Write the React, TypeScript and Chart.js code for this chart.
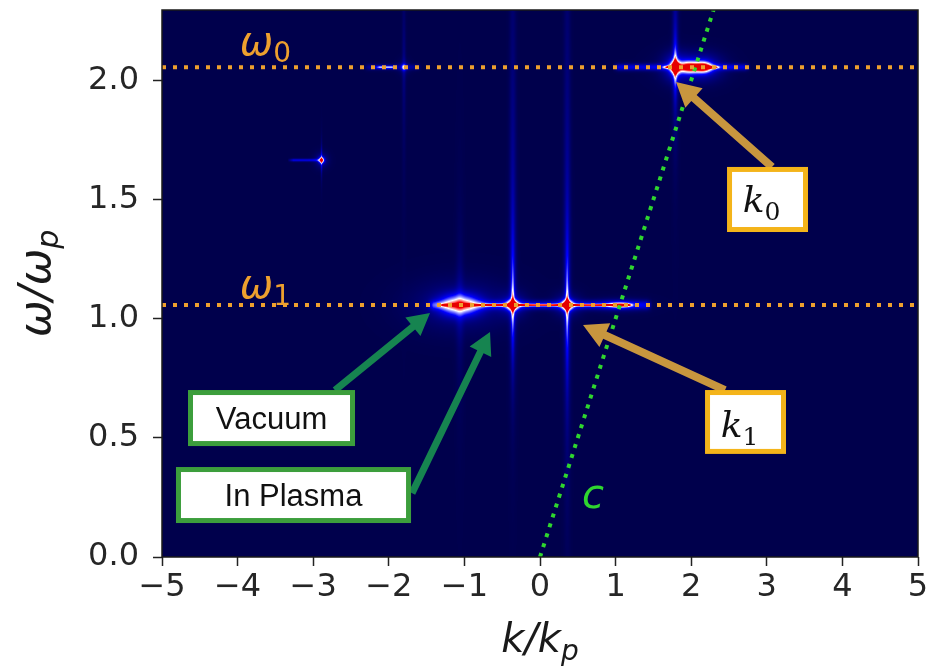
import React, { useEffect, useRef } from "react";
import { Chart, registerables } from "chart.js";

Chart.register(...registerables);

// ---------------- axes ----------------
const xTickValues = [-5, -4, -3, -2, -1, 0, 1, 2, 3, 4, 5];
const yTickValues = [0, 0.5, 1.0, 1.5, 2.0];
const kRange = [-5, 5];
const omegaRange = [0, 2.295];

// ---------------- reference lines ----------------
const omegaLevels = [2.055, 1.057]; // ω0, ω1
const omegaSubs = ["0", "1"];
const omegaLabelK = [-3.97, -3.97];
const omegaLabelW = [2.106, 1.087];
const lightLineK = [0, 2.4]; // light line ω = c k
const lightLineW = [0, 2.4];

// ---------------- spectrum: localized peaks ----------------
const peakK = [-1.06, -0.36, 0.36, 1.05, 1.79, 1.98, 2.17, -2.89, -1.8];
const peakW = [1.057, 1.057, 1.057, 1.057, 2.055, 2.055, 2.055, 1.665, 2.055];
const peakDK = [0.25, 0.07, 0.07, 0.14, 0.06, 0.14, 0.1, 0.035, 0.03];
const peakDW = [0.042, 0.02, 0.02, 0.012, 0.025, 0.024, 0.022, 0.012, 0.012];
const peakAmp = [0.5, 0.66, 0.66, 0.38, 0.72, 0.62, 0.58, 0.6, 0.32];

// ---------------- spectrum: vertical streaks ----------------
const streakK = [-0.36, -0.36, 0.36, 0.36, 1.79, 1.79, -1.06, -1.8, -2.89];
const streakW = [1.057, 1.057, 1.057, 1.057, 2.055, 2.055, 1.057, 2.055, 1.665];
const streakDK = [0.02, 0.045, 0.02, 0.045, 0.02, 0.04, 0.05, 0.025, 0.012];
const streakUp = [0.15, 0.9, 0.15, 0.9, 0.06, 0.3, 0.25, 0.3, 0.04];
const streakDown = [0.12, 0.25, 0.15, 0.45, 0.06, 0.2, 0.25, 0.3, 0.04];
const streakAmp = [0.45, 0.18, 0.45, 0.18, 0.45, 0.2, 0.08, 0.08, 0.3];

// ---------------- spectrum: horizontal line emission ----------------
const lineW = [1.057, 1.057, 2.055, 2.055, 2.055, 2.055, 1.665];
const lineK0 = [-1.45, -1.3, 1.0, 1.65, -2.16, -2.3, -3.3];
const lineK1 = [1.45, 1.2, 2.75, 2.35, -1.92, -1.6, -2.89];
const lineDW = [0.018, 0.005, 0.014, 0.005, 0.006, 0.012, 0.006];
const lineAmp = [0.2, 0.58, 0.2, 0.55, 0.35, 0.1, 0.2];

const ORANGE = "#eea02e";
const GREEN_DOT = "#2fd62f";
const BOX_GREEN = "#3c9e3c";
const ARROW_GREEN = "#168450";
const BOX_GOLD = "#f4b41a";
const ARROW_GOLD = "#c8963e";

function seismicLUT(n: number) {
  const stops = [
    [0, 0, 0, 76.5],
    [0.25, 0, 0, 255],
    [0.5, 255, 255, 255],
    [0.75, 255, 0, 0],
    [1, 127.5, 0, 0],
  ];
  const lut = new Uint8ClampedArray(n * 3);
  for (let i = 0; i < n; i++) {
    const t = i / (n - 1);
    let s = 0;
    while (s < stops.length - 2 && t > stops[s + 1][0]) s++;
    const a = stops[s], b = stops[s + 1];
    const f = (t - a[0]) / (b[0] - a[0]);
    lut[i * 3] = a[1] + (b[1] - a[1]) * f;
    lut[i * 3 + 1] = a[2] + (b[2] - a[2]) * f;
    lut[i * 3 + 2] = a[3] + (b[3] - a[3]) * f;
  }
  return lut;
}

const spectrumPlugin = {
  id: "spectrum",
  beforeDatasetsDraw(chart: any) {
    const { ctx, chartArea: a, scales } = chart;
    const xs = scales.x, ys = scales.y;
    const W = Math.round(a.right - a.left), H = Math.round(a.bottom - a.top);
    const field = new Float32Array(W * H);
    const colK = new Float64Array(W), rowW = new Float64Array(H);
    for (let i = 0; i < W; i++) colK[i] = xs.getValueForPixel(a.left + i + 0.5);
    for (let j = 0; j < H; j++) rowW[j] = ys.getValueForPixel(a.top + j + 0.5);
    const add = (k0: number, k1: number, w0: number, w1: number, f: (k: number, w: number) => number) => {
      let i0 = Math.floor(xs.getPixelForValue(k0) - a.left), i1 = Math.ceil(xs.getPixelForValue(k1) - a.left);
      let j0 = Math.floor(ys.getPixelForValue(w1) - a.top), j1 = Math.ceil(ys.getPixelForValue(w0) - a.top);
      i0 = Math.max(0, i0); i1 = Math.min(W - 1, i1); j0 = Math.max(0, j0); j1 = Math.min(H - 1, j1);
      for (let j = j0; j <= j1; j++) {
        const w = rowW[j], base = j * W;
        for (let i = i0; i <= i1; i++) field[base + i] += f(colK[i], w);
      }
    };
    peakK.forEach((pk, n) => {
      const pw = peakW[n], dk = peakDK[n], dw = peakDW[n], amp = peakAmp[n];
      add(pk - 10 * dk, pk + 10 * dk, pw - 10 * dw, pw + 10 * dw, (k, w) => {
        const r2 = ((k - pk) / dk) ** 2 + ((w - pw) / dw) ** 2;
        return amp * Math.exp(-r2) + 0.18 * amp * Math.exp(-r2 / 6.25);
      });
    });
    streakK.forEach((sk, n) => {
      const sw = streakW[n], dk = streakDK[n], up = streakUp[n], dn = streakDown[n], amp = streakAmp[n];
      add(sk - 3 * dk, sk + 3 * dk, sw - 8 * dn, sw + 8 * up, (k, w) => {
        const d = w - sw;
        return amp * Math.exp(-(((k - sk) / dk) ** 2)) * Math.exp(d > 0 ? -d / up : d / dn);
      });
    });
    lineW.forEach((lw, n) => {
      const k0 = lineK0[n], k1 = lineK1[n], dw = lineDW[n], amp = lineAmp[n];
      add(k0 - 0.1, k1 + 0.1, lw - 5 * dw, lw + 5 * dw, (k, w) => {
        const edge = Math.min(1, Math.max(0, (k - k0) / 0.08 + 0.5)) * Math.min(1, Math.max(0, (k1 - k) / 0.08 + 0.5));
        return amp * edge * Math.exp(-(((w - lw) / dw) ** 2));
      });
    });
    const N = 512;
    const lut = seismicLUT(N);
    const off = document.createElement("canvas");
    off.width = W; off.height = H;
    const octx = off.getContext("2d")!;
    const img = octx.createImageData(W, H);
    for (let p = 0; p < W * H; p++) {
      const t = Math.min(0.8, Math.max(0, field[p]));
      const li = Math.round(t * (N - 1)) * 3;
      img.data[p * 4] = lut[li];
      img.data[p * 4 + 1] = lut[li + 1];
      img.data[p * 4 + 2] = lut[li + 2];
      img.data[p * 4 + 3] = 255;
    }
    octx.putImageData(img, 0, 0);
    ctx.save();
    ctx.beginPath();
    ctx.rect(a.left, a.top, a.right - a.left, a.bottom - a.top);
    ctx.clip();
    ctx.fillStyle = "rgb(0,0,76)";
    ctx.fillRect(a.left, a.top, a.right - a.left, a.bottom - a.top);
    ctx.filter = "blur(0.7px)";
    ctx.drawImage(off, a.left, a.top);
    ctx.filter = "none";
    ctx.restore();
  },
};

type Run = { t: string; font: string; dy?: number };
function drawRuns(ctx: CanvasRenderingContext2D, runs: Run[], x: number, y: number, align: "left" | "center") {
  const widths = runs.map((r) => { ctx.font = r.font; return ctx.measureText(r.t).width; });
  const total = widths.reduce((s, v) => s + v, 0);
  let cx = align === "center" ? x - total / 2 : x;
  ctx.textAlign = "left";
  ctx.textBaseline = "alphabetic";
  runs.forEach((r, i) => { ctx.font = r.font; ctx.fillText(r.t, cx, y + (r.dy || 0)); cx += widths[i]; });
}

function drawArrow(ctx: CanvasRenderingContext2D, x0: number, y0: number, x1: number, y1: number, color: string, shaft: number, headLen: number, headW: number) {
  const ang = Math.atan2(y1 - y0, x1 - x0);
  const len = Math.hypot(x1 - x0, y1 - y0);
  ctx.save();
  ctx.translate(x0, y0);
  ctx.rotate(ang);
  ctx.beginPath();
  ctx.moveTo(0, -shaft / 2);
  ctx.lineTo(len - headLen, -shaft / 2);
  ctx.lineTo(len - headLen, -headW / 2);
  ctx.lineTo(len, 0);
  ctx.lineTo(len - headLen, headW / 2);
  ctx.lineTo(len - headLen, shaft / 2);
  ctx.lineTo(0, shaft / 2);
  ctx.closePath();
  ctx.fillStyle = color;
  ctx.fill();
  ctx.restore();
}

const overlayPlugin = {
  id: "overlay",
  afterDatasetsDraw(chart: any) {
    const { ctx, chartArea: a, scales } = chart;
    const px = (k: number) => scales.x.getPixelForValue(k);
    const py = (w: number) => scales.y.getPixelForValue(w);
    ctx.save();
    ctx.beginPath();
    ctx.rect(a.left, a.top, a.right - a.left, a.bottom - a.top);
    ctx.clip();
    // ω labels
    ctx.fillStyle = ORANGE;
    omegaLevels.forEach((_, i) => {
      drawRuns(ctx, [
        { t: "ω", font: 'italic 40px "DejaVu Sans"' },
        { t: omegaSubs[i], font: '28px "DejaVu Sans"', dy: 7 },
      ], px(omegaLabelK[i]), py(omegaLabelW[i]), "left");
    });
    // c label
    ctx.fillStyle = GREEN_DOT;
    drawRuns(ctx, [{ t: "c", font: 'italic 40px "DejaVu Sans"' }], px(0.556), py(0.2056), "left");

    // arrows
    drawArrow(ctx, px(-2.712), py(0.70), px(-1.455), py(1.024), ARROW_GREEN, 7, 22, 24);
    drawArrow(ctx, px(-1.693), py(0.268), px(-0.661), py(0.944), ARROW_GREEN, 7, 22, 24);
    drawArrow(ctx, px(3.069), py(1.636), px(1.799), py(1.993), ARROW_GOLD, 8, 24, 26);
    drawArrow(ctx, px(2.447), py(0.70), px(0.569), py(0.973), ARROW_GOLD, 8, 24, 26);

    // boxes
    const box = (k0: number, k1: number, wTop: number, wBot: number, color: string) => {
      const x0 = px(k0), x1 = px(k1), y0 = py(wTop), y1 = py(wBot);
      ctx.fillStyle = "#ffffff";
      ctx.fillRect(x0, y0, x1 - x0, y1 - y0);
      ctx.strokeStyle = color;
      ctx.lineWidth = 5;
      ctx.strokeRect(x0, y0, x1 - x0, y1 - y0);
      return { cx: (x0 + x1) / 2, cy: (y0 + y1) / 2 };
    };
    const b1 = box(-4.623, -2.480, 0.690, 0.476, BOX_GREEN);
    const b2 = box(-4.782, -1.739, 0.367, 0.153, BOX_GREEN);
    const b3 = box(2.507, 3.512, 1.626, 1.374, BOX_GOLD);
    const b4 = box(2.216, 3.221, 0.690, 0.443, BOX_GOLD);
    ctx.fillStyle = "#111111";
    drawRuns(ctx, [{ t: "Vacuum", font: '31px "Liberation Sans"' }], b1.cx, b1.cy + 11, "center");
    drawRuns(ctx, [{ t: "In Plasma", font: '31px "Liberation Sans"' }], b2.cx, b2.cy + 11, "center");
    drawRuns(ctx, [
      { t: "k", font: 'italic 36px "DejaVu Serif"' },
      { t: "0", font: '25px "DejaVu Serif"', dy: 8 },
    ], b3.cx - 6, b3.cy + 13, "center");
    drawRuns(ctx, [
      { t: "k", font: 'italic 36px "DejaVu Serif"' },
      { t: "1", font: '25px "DejaVu Serif"', dy: 8 },
    ], b4.cx - 6, b4.cy + 15, "center");
    ctx.restore();
  },
  afterDraw(chart: any) {
    const { ctx, chartArea: a } = chart;
    ctx.save();
    // frame
    ctx.strokeStyle = "#1a1a1a";
    ctx.lineWidth = 1.5;
    ctx.strokeRect(a.left, a.top, a.right - a.left, a.bottom - a.top);
    // axis titles
    ctx.fillStyle = "#1a1a1a";
    drawRuns(ctx, [
      { t: "k/k", font: 'italic 40px "DejaVu Sans"' },
      { t: "p", font: 'italic 28px "DejaVu Sans"', dy: 8 },
    ], (a.left + a.right) / 2, 652, "center");
    ctx.translate(50, (a.top + a.bottom) / 2);
    ctx.rotate(-Math.PI / 2);
    drawRuns(ctx, [
      { t: "ω/ω", font: 'italic 44px "DejaVu Sans"' },
      { t: "p", font: 'italic 30px "DejaVu Sans"', dy: 8 },
    ], 0, 0, "center");
    ctx.restore();
  },
};

const fmt = (v: number, digits: number) => (v < 0 ? "\u2212" : "") + Math.abs(v).toFixed(digits);

export default function App() {
  const ref = useRef<HTMLCanvasElement | null>(null);
  useEffect(() => {
    if (!ref.current) return;
    const chart = new Chart(ref.current, {
      type: "line",
      data: {
        datasets: [
          ...omegaLevels.map((w) => ({
            data: kRange.map((k) => ({ x: k, y: w })),
            borderColor: ORANGE,
            borderWidth: 4,
            borderDash: [4, 7],
            borderCapStyle: "butt" as const,
            pointRadius: 0,
            fill: false,
            clip: 0,
          })),
          {
            data: lightLineK.map((k, i) => ({ x: k, y: lightLineW[i] })),
            borderColor: GREEN_DOT,
            borderWidth: 4,
            borderDash: [4, 6.4],
            borderCapStyle: "butt" as const,
            pointRadius: 0,
            fill: false,
            clip: 0,
          },
        ],
      },
      options: {
        responsive: false,
        animation: false,
        devicePixelRatio: 1,
        layout: { padding: { top: 10, right: 9, left: 0, bottom: 0 } },
        plugins: { legend: { display: false }, tooltip: { enabled: false } },
        scales: {
          x: {
            type: "linear",
            min: kRange[0],
            max: kRange[1],
            afterBuildTicks: (s: any) => { s.ticks = xTickValues.map((v) => ({ value: v })); },
            afterFit: (s: any) => { s.height = 112; s.paddingLeft = 0; s.paddingRight = 0; },
            grid: { drawOnChartArea: false, drawTicks: true, tickLength: 9, tickWidth: 1.5, tickColor: "#222" },
            border: { display: false },
            ticks: {
              font: { family: "DejaVu Sans", size: 32 },
              color: "#262626",
              padding: 2,
              maxRotation: 0,
              autoSkip: false,
              callback: (v: any) => fmt(Number(v), 0),
            },
          },
          y: {
            type: "linear",
            min: omegaRange[0],
            max: omegaRange[1],
            afterBuildTicks: (s: any) => { s.ticks = yTickValues.map((v) => ({ value: v })); },
            afterFit: (s: any) => { s.width = 162; s.paddingTop = 0; s.paddingBottom = 0; },
            grid: { drawOnChartArea: false, drawTicks: true, tickLength: 9, tickWidth: 1.5, tickColor: "#222" },
            border: { display: false },
            ticks: {
              font: { family: "DejaVu Sans", size: 32 },
              color: "#262626",
              padding: 14,
              autoSkip: false,
              callback: (v: any) => fmt(Number(v), 1),
            },
          },
        },
      },
      plugins: [spectrumPlugin, overlayPlugin],
    } as any);
    return () => chart.destroy();
  }, []);
  return (
    <div style={{ position: "fixed", left: 0, top: 0, width: 927, height: 669, background: "#ffffff" }}>
      <canvas ref={ref} width={927} height={669} style={{ display: "block" }} />
    </div>
  );
}
